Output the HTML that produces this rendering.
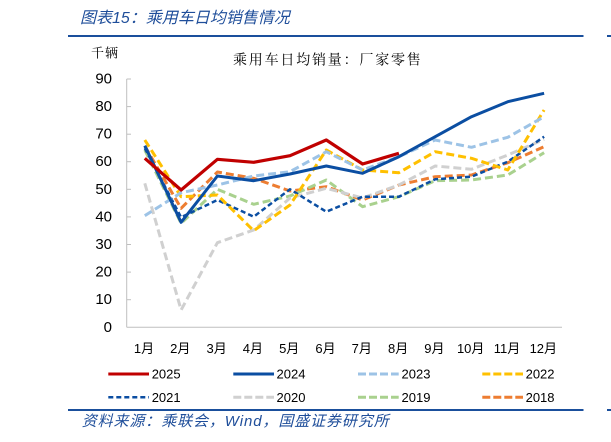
<!DOCTYPE html>
<html><head><meta charset="utf-8"><style>
html,body{margin:0;padding:0;background:#fff;}
svg{display:block;}
</style></head><body>
<svg width="611" height="442" viewBox="0 0 611 442" xmlns="http://www.w3.org/2000/svg">
<rect width="611" height="442" fill="#fff"/>
<!-- header -->
<text x="80" y="18.5" dominant-baseline="central" font-family="Liberation Sans, Noto Sans CJK SC, sans-serif" font-size="16" font-style="italic" fill="#1f4e9a">图表15：乘用车日均销售情况</text>
<rect x="68" y="35" width="515.5" height="2" fill="#1a4f9c"/>
<rect x="607" y="35" width="4" height="2" fill="#1a4f9c"/>
<!-- unit & chart title -->
<text x="91" y="52" dominant-baseline="central" font-family="Noto Serif CJK SC, serif" font-size="13" letter-spacing="1" fill="#000">千辆</text>
<text x="233" y="59.5" dominant-baseline="central" font-family="Noto Serif CJK SC, serif" font-size="14" letter-spacing="1.8" fill="#000">乘用车日均销量：厂家零售</text>
<!-- axes -->
<g stroke="#bfbfbf" stroke-width="1">
<line x1="126.7" y1="79" x2="126.7" y2="327.3"/>
<line x1="126.7" y1="327.3" x2="562" y2="327.3"/>
<line x1="126.7" y1="79" x2="131" y2="79"/>
<line x1="126.7" y1="106.6" x2="131" y2="106.6"/>
<line x1="126.7" y1="134.2" x2="131" y2="134.2"/>
<line x1="126.7" y1="161.7" x2="131" y2="161.7"/>
<line x1="126.7" y1="189.3" x2="131" y2="189.3"/>
<line x1="126.7" y1="216.9" x2="131" y2="216.9"/>
<line x1="126.7" y1="244.5" x2="131" y2="244.5"/>
<line x1="126.7" y1="272.1" x2="131" y2="272.1"/>
<line x1="126.7" y1="299.7" x2="131" y2="299.7"/>
</g>
<g font-family="Liberation Sans, sans-serif" font-size="15" fill="#000" text-anchor="end" dominant-baseline="central">
<text x="112" y="79">90</text>
<text x="112" y="106.6">80</text>
<text x="112" y="134.2">70</text>
<text x="112" y="161.7">60</text>
<text x="112" y="189.3">50</text>
<text x="112" y="216.9">40</text>
<text x="112" y="244.5">30</text>
<text x="112" y="272.1">20</text>
<text x="112" y="299.7">10</text>
<text x="112" y="327.3">0</text>
</g>
<g font-family="Liberation Sans, Noto Sans CJK SC, sans-serif" font-size="13" fill="#000" text-anchor="middle" dominant-baseline="central">
<text x="144" y="348.3">1月</text>
<text x="180.3" y="348.3">2月</text>
<text x="216.6" y="348.3">3月</text>
<text x="252.9" y="348.3">4月</text>
<text x="289.2" y="348.3">5月</text>
<text x="325.5" y="348.3">6月</text>
<text x="361.8" y="348.3">7月</text>
<text x="398.1" y="348.3">8月</text>
<text x="434.4" y="348.3">9月</text>
<text x="470.7" y="348.3">10月</text>
<text x="507" y="348.3">11月</text>
<text x="543.3" y="348.3">12月</text>
</g>
<!-- series -->
<g fill="none" stroke-linejoin="round">
<polyline stroke="#ed7d31" stroke-width="3" stroke-dasharray="8,4" points="144.8,146 181.1,208.3 217.4,172 253.7,178.3 290,191 326.3,186.7 362.6,200 398.9,185 435.2,176.7 471.5,175 507.8,162.7 544.1,146.7"/>
<polyline stroke="#a9d18e" stroke-width="3" stroke-dasharray="8,4" points="144.8,150 181.1,223.3 217.4,189.3 253.7,204.3 290,196 326.3,180 362.6,206.7 398.9,196.7 435.2,180.7 471.5,180 507.8,175 544.1,152.7"/>
<polyline stroke="#d0d0d0" stroke-width="3" stroke-dasharray="8,4" points="144.8,183.3 181.1,310 217.4,242.7 253.7,230 290,198 326.3,188.3 362.6,198 398.9,185 435.2,166 471.5,169.3 507.8,155 544.1,139.3"/>
<polyline stroke="#0b4ea2" stroke-width="2.5" stroke-dasharray="5,3" points="144.8,148.3 181.1,217.3 217.4,200 253.7,216.7 290,189.3 326.3,211.7 362.6,196.7 398.9,196.7 435.2,179.3 471.5,176.7 507.8,161.7 544.1,136.7"/>
<polyline stroke="#ffc000" stroke-width="3" stroke-dasharray="8,4" points="144.8,140 181.1,196.7 217.4,195 253.7,230.7 290,205 326.3,150 362.6,170 398.9,172.7 435.2,151.7 471.5,158.3 507.8,170 544.1,110"/>
<polyline stroke="#9dc3e6" stroke-width="3" stroke-dasharray="8,4" points="144.8,215.7 181.1,192.7 217.4,185 253.7,176 290,171.7 326.3,151.7 362.6,170 398.9,156.7 435.2,140 471.5,147.3 507.8,137.3 544.1,116.7"/>
<polyline stroke="#0b4ea2" stroke-width="3" points="144.8,145.7 181.1,222.3 217.4,176 253.7,180.7 290,174 326.3,166 362.6,173.3 398.9,156.7 435.2,136.7 471.5,116.7 507.8,101.7 544.1,93.3"/>
<polyline stroke="#c00000" stroke-width="3.2" points="144.8,158.3 181.1,190 217.4,159.3 253.7,162.3 290,155.7 326.3,140 362.6,164 398.9,153.3"/>
</g>
<!-- legend -->
<g fill="none">
<line x1="108.3" y1="374" x2="149" y2="374" stroke="#c00000" stroke-width="3"/>
<line x1="233.3" y1="374" x2="274" y2="374" stroke="#0b4ea2" stroke-width="3"/>
<line x1="358" y1="374" x2="398.7" y2="374" stroke="#9dc3e6" stroke-width="3" stroke-dasharray="8,3"/>
<line x1="482.3" y1="374" x2="523" y2="374" stroke="#ffc000" stroke-width="3" stroke-dasharray="8,3"/>
<line x1="108.3" y1="397.3" x2="149" y2="397.3" stroke="#0b4ea2" stroke-width="2.5" stroke-dasharray="5,3"/>
<line x1="233.3" y1="397.3" x2="274" y2="397.3" stroke="#d0d0d0" stroke-width="3" stroke-dasharray="8,3"/>
<line x1="358" y1="397.3" x2="398.7" y2="397.3" stroke="#a9d18e" stroke-width="3" stroke-dasharray="8,3"/>
<line x1="482.3" y1="397.3" x2="523" y2="397.3" stroke="#ed7d31" stroke-width="3" stroke-dasharray="8,3"/>
</g>
<g font-family="Liberation Sans, sans-serif" font-size="13" fill="#000" dominant-baseline="central">
<text x="151.7" y="374">2025</text>
<text x="276.5" y="374">2024</text>
<text x="401.5" y="374">2023</text>
<text x="525.6" y="374">2022</text>
<text x="151.7" y="397.3">2021</text>
<text x="276.5" y="397.3">2020</text>
<text x="401.5" y="397.3">2019</text>
<text x="525.6" y="397.3">2018</text>
</g>
<!-- footer -->
<rect x="68" y="409" width="515.5" height="2" fill="#1a4f9c"/>
<rect x="607" y="409" width="4" height="2" fill="#1a4f9c"/>
<text x="81.7" y="421.5" dominant-baseline="central" font-family="Liberation Sans, Noto Sans CJK SC, sans-serif" font-size="15" font-style="italic" letter-spacing="0.9" fill="#1f4e9a">资料来源：乘联会，Wind，国盛证券研究所</text>
</svg>
</body></html>
